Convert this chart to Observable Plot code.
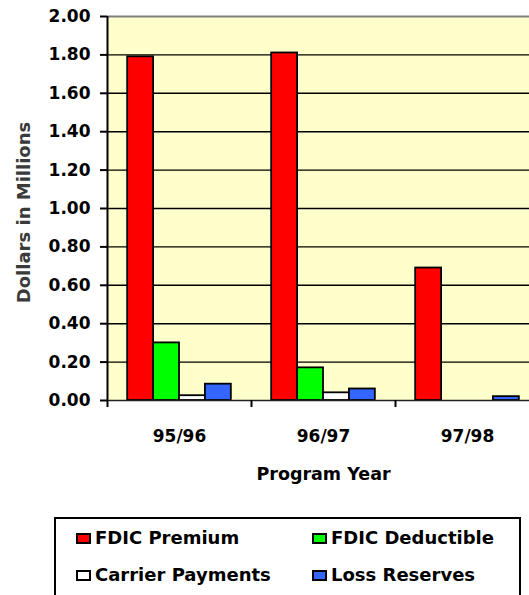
<!DOCTYPE html>
<html>
<head>
<meta charset="utf-8">
<script src="https://cdn.jsdelivr.net/npm/d3@7"></script>
<script src="https://cdn.jsdelivr.net/npm/@observablehq/plot@0.6"></script>
<style>
  html, body { margin: 0; padding: 0; background: white; overflow: hidden; }
  #chart svg { display: block; }
  .legend {
    margin: 12px 0 0 54px;
    width: 467px;
    height: 120px;
    border: 2px solid black;
    border-bottom: none;
    box-sizing: border-box;
    display: grid;
    grid-template-columns: 236px 1fr;
    grid-auto-rows: 37px;
    padding-left: 20px;
    font-family: "DejaVu Sans", sans-serif;
    font-weight: bold;
    font-size: 18px;
    line-height: 37px;
    color: black;
  }
  .legend .item { white-space: nowrap; }
  .legend .sw {
    display: inline-block;
    width: 11px; height: 7px;
    border: 2px solid black;
    margin-right: 4px;
    vertical-align: 0px;
  }
</style>
</head>
<body>
<div id="chart"></div>
<script>
// ---- data ----
const years = ["95/96", "96/97", "97/98"];
const series = ["FDIC Premium", "FDIC Deductible", "Carrier Payments", "Loss Reserves"];
const colors = ["#ff0000", "#00ff00", "#ffffff", "#3366ff"];
const fdicPremium = [1.79, 1.81, 0.69];
const fdicDeductible = [0.30, 0.17, 0];
const carrierPayments = [0.025, 0.04, 0];
const lossReserves = [0.085, 0.06, 0.02];
const yTicks = [0, 0.2, 0.4, 0.6, 0.8, 1.0, 1.2, 1.4, 1.6, 1.8, 2.0];
const yLabel = "Dollars in Millions";
const xLabel = "Program Year";

const valuesBySeries = [fdicPremium, fdicDeductible, carrierPayments, lossReserves];
const table = [];
years.forEach((year, yi) => {
  series.forEach((s, si) => {
    table.push({year, yi, series: s, si, value: valuesBySeries[si][yi]});
  });
});
const bars = table.filter(d => d.value > 0);

// grouping layout within each program-year slot
const groupPad = 0.14;
const barW = (1 - 2 * groupPad) / series.length;
const boundaries = d3.range(years.length + 1);
const centers = years.map((_, i) => i + 0.5);

const chart = Plot.plot({
  width: 529,
  height: 505,
  marginTop: 16,
  marginLeft: 107,
  marginRight: -10,
  marginBottom: 105,
  x: {domain: [0, years.length], axis: null},
  y: {domain: [0, 2], axis: null},
  color: {domain: series, range: colors},
  style: {fontFamily: "DejaVu Sans, sans-serif", fontWeight: "bold", fontSize: "17px", color: "black", background: "white"},
  marks: [
    Plot.frame({fill: "#ffffcc", stroke: "none"}),
    Plot.gridY({ticks: yTicks.slice(1, -1), stroke: "black", strokeOpacity: 1, strokeWidth: 1.4}),
    Plot.ruleY([2], {stroke: "#808080", strokeWidth: 2}),
    Plot.rectY(bars, {
      x1: d => d.yi + groupPad + d.si * barW,
      x2: d => d.yi + groupPad + (d.si + 1) * barW,
      y: "value",
      fill: "series",
      stroke: "black",
      strokeWidth: 1.8
    }),
    Plot.ruleY([0], {stroke: "#222", strokeWidth: 1.6}),
    Plot.ruleX([0], {stroke: "black", strokeWidth: 2}),
    Plot.axisY({ticks: yTicks, tickFormat: d3.format(".2f"), tickSize: 7, tickPadding: 10, strokeWidth: 2, label: null, fontSize: 17}),
    Plot.axisX({ticks: boundaries, tickSize: 7, tickFormat: () => "", strokeWidth: 2, label: null}),
    Plot.axisX({ticks: centers, tickSize: 0, tickPadding: 29, tickFormat: v => years[Math.floor(v)], label: null, fontSize: 17}),
    Plot.text([xLabel], {text: d => d, frameAnchor: "bottom", lineAnchor: "top", dy: 67, fontSize: 17.5, fontWeight: "bold"}),
    Plot.text([yLabel], {text: d => d, frameAnchor: "left", textAnchor: "middle", lineAnchor: "middle", rotate: -90, dx: -83, dy: 4, fontSize: 18, fontWeight: "bold", fill: "#3a3a3a"})
  ]
});
document.getElementById("chart").appendChild(chart);

// legend
const legend = document.createElement("div");
legend.className = "legend";
series.forEach((s, i) => {
  const item = document.createElement("div");
  item.className = "item";
  const sw = document.createElement("span");
  sw.className = "sw";
  sw.style.background = colors[i];
  item.appendChild(sw);
  item.appendChild(document.createTextNode(s));
  legend.appendChild(item);
});
document.body.appendChild(legend);
</script>
</body>
</html>
